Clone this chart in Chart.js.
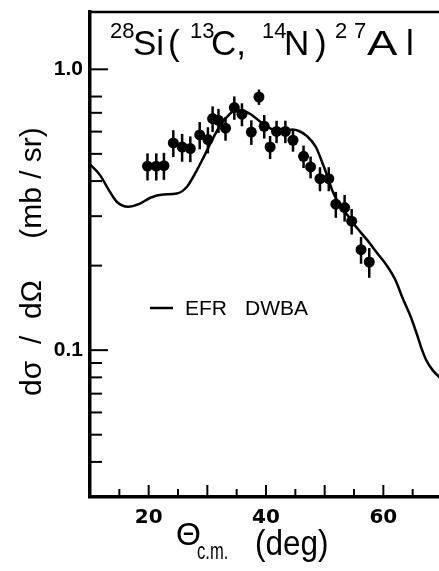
<!DOCTYPE html>
<html>
<head>
<meta charset="utf-8">
<script src="https://cdn.jsdelivr.net/npm/chart.js@4/dist/chart.umd.min.js"></script>
<style>
  html, body { margin: 0; padding: 0; background: #fff; overflow: hidden; }
  canvas { display: block; }
</style>
</head>
<body>
<canvas id="xsec" width="451" height="571"></canvas>
<script>
// measured points (theta c.m. in deg, dsigma/dOmega in mb/sr)
const angles = [19.8, 21.3, 22.6, 24.2, 25.7, 27.1, 28.7, 30.1, 30.9, 31.9, 33.1, 34.6, 35.9, 37.5, 38.8,
                39.7, 40.7, 41.8, 43.3, 44.6, 46.4, 47.6, 49.2, 50.7, 51.9, 53.4, 54.6, 56.2, 57.6];
const sigma = [0.452, 0.452, 0.454, 0.547, 0.529, 0.522, 0.584, 0.562, 0.668, 0.658, 0.617, 0.731, 0.692, 0.598, 0.797,
               0.627, 0.529, 0.601, 0.601, 0.559, 0.490, 0.449, 0.408, 0.408, 0.331, 0.322, 0.288, 0.228, 0.206];
const sigmaErr = [0.05, 0.05, 0.05, 0.06, 0.06, 0.055, 0.065, 0.06, 0.07, 0.065, 0.06, 0.07, 0.065, 0.06, 0.05,
                  0.06, 0.05, 0.055, 0.055, 0.05, 0.045, 0.04, 0.04, 0.04, 0.035, 0.035, 0.03, 0.025, 0.025];

// EFR DWBA curve
const dwbaAngles = [10, 11.7, 13.4, 14.6, 16.5, 18.3, 20.3, 22.5, 24.8, 26.5, 27.9, 29.4, 30.8, 32.2, 33.6, 34.8,
                    36.2, 37.4, 39.1, 40.8, 42.5, 44.5, 45.6, 47.0, 48.5, 49.6, 50.5, 51.3, 52.4, 53.9, 55.6,
                    57.3, 59.0, 60.6, 62.1, 63.3, 64.7, 65.9, 66.4, 67.3, 68.4, 69.5, 70];
const dwbaSigma = [0.459, 0.420, 0.366, 0.337, 0.324, 0.331, 0.349, 0.358, 0.361, 0.381, 0.425, 0.488, 0.559, 0.632,
                   0.686, 0.715, 0.711, 0.692, 0.649, 0.615, 0.593, 0.610, 0.603, 0.578, 0.529, 0.465, 0.415, 0.370,
                   0.333, 0.302, 0.271, 0.246, 0.221, 0.200, 0.177, 0.153, 0.131, 0.111, 0.103, 0.0923, 0.0849,
                   0.0804, 0.079];

// axis ticks
const xTicks = [15, 20, 25, 30, 35, 40, 45, 50, 55, 60, 65];
const xLabels = { 20: '20', 40: '40', 60: '60' };
const yTicks = [0.04, 0.05, 0.06, 0.07, 0.08, 0.09, 0.1, 0.2, 0.3, 0.4, 0.5, 0.6, 0.7, 0.8, 1.0];
const yLabels = { 0.1: '0.1', 1: '1.0' };

const SANS = '"Liberation Sans", Arial, sans-serif';

// vertical error bars through each measured point
const errorBars = {
    id: 'errorBars',
    beforeDatasetsDraw(chart) {
        const { ctx, scales: { x, y } } = chart;
        ctx.save();
        ctx.strokeStyle = '#000';
        ctx.lineWidth = 2.5;
        angles.forEach((a, i) => {
            const px = x.getPixelForValue(a);
            ctx.beginPath();
            ctx.moveTo(px, y.getPixelForValue(sigma[i] - sigmaErr[i]));
            ctx.lineTo(px, y.getPixelForValue(sigma[i] + sigmaErr[i]));
            ctx.stroke();
        });
        ctx.restore();
    }
};

// text squeezed sideways, the lettering of the original is narrow
function narrowText(ctx, s, x, y, sx) {
    ctx.save();
    ctx.translate(x, y);
    ctx.scale(sx, 1);
    ctx.fillText(s, 0, 0);
    ctx.restore();
}

// inward tick marks, top frame line and all the lettering
const decorations = {
    id: 'decorations',
    afterDraw(chart) {
        const { ctx, chartArea: area, scales: { x, y } } = chart;
        ctx.save();
        ctx.strokeStyle = '#000';
        ctx.fillStyle = '#000';

        ctx.lineWidth = 2;
        y.ticks.forEach(t => {
            const py = y.getPixelForValue(t.value);
            const len = yLabels[t.value] ? 18 : 12;
            ctx.beginPath();
            ctx.moveTo(area.left, py);
            ctx.lineTo(area.left + len, py);
            ctx.stroke();
        });
        x.ticks.forEach(t => {
            const px = x.getPixelForValue(t.value);
            const len = t.value % 10 === 0 ? 12 : 8;
            ctx.beginPath();
            ctx.moveTo(px, area.bottom);
            ctx.lineTo(px, area.bottom - len);
            ctx.stroke();
        });

        // top of the frame
        ctx.lineWidth = 2.5;
        ctx.beginPath();
        ctx.moveTo(area.left - 1.5, area.top);
        ctx.lineTo(area.right + 2, area.top);
        ctx.stroke();

        // reaction label
        ctx.textBaseline = 'alphabetic';
        ctx.textAlign = 'left';
        const sup = '22px ' + SANS, big = '35px ' + SANS;
        [['28', 110, sup], ['Si', 133, big], ['(', 168, big], ['13', 190, sup], ['C,', 211, big],
         ['14', 262, sup], ['N', 284, big], [')', 315, big], ['2', 335, sup], ['7', 354, sup]].forEach(([s, px, f]) => {
            ctx.font = f;
            ctx.fillText(s, px, f === sup ? 38 : 55);
        });
        ctx.font = big;
        narrowText(ctx, 'A', 367, 55, 1.3);
        ctx.fillText('l', 406, 55);

        // legend
        ctx.lineWidth = 2.5;
        ctx.beginPath();
        ctx.moveTo(150, 308);
        ctx.lineTo(173, 308);
        ctx.stroke();
        ctx.font = '21px ' + SANS;
        ctx.fillText('EFR', 185, 315);
        ctx.fillText('DWBA', 245, 315);

        // x axis title
        ctx.font = '32px ' + SANS;
        ctx.fillText('\u0398', 176, 545);
        ctx.font = '23px ' + SANS;
        narrowText(ctx, 'c.m.', 197, 559, 0.72);
        ctx.font = '35px ' + SANS;
        narrowText(ctx, '(deg)', 255, 555, 0.9);

        // y axis title
        ctx.translate(41, 262);
        ctx.rotate(-Math.PI / 2);
        ctx.textAlign = 'center';
        ctx.font = '30px ' + SANS;
        ctx.fillText('d\u03c3  /  d\u03a9', -76, 0);
        ctx.fillText('(mb / sr)', 79, 0);
        ctx.restore();
    }
};

new Chart(document.getElementById('xsec'), {
    type: 'scatter',
    data: {
        datasets: [
            {
                label: 'data',
                data: angles.map((a, i) => ({ x: a, y: sigma[i] })),
                pointRadius: 5.5,
                pointHoverRadius: 5.5,
                pointBackgroundColor: '#000',
                pointBorderWidth: 0
            },
            {
                label: 'EFR DWBA',
                data: dwbaAngles.map((a, i) => ({ x: a, y: dwbaSigma[i] })),
                showLine: true,
                borderColor: '#000',
                borderWidth: 2.5,
                pointRadius: 0,
                cubicInterpolationMode: 'monotone'
            }
        ]
    },
    options: {
        responsive: false,
        animation: false,
        events: [],
        layout: { padding: { top: 12, right: 9, left: 0, bottom: 0 } },
        plugins: {
            legend: { display: false },
            tooltip: { enabled: false }
        },
        scales: {
            x: {
                type: 'linear',
                min: 10,
                max: 70,
                afterFit: s => { s.height = 74; },
                afterBuildTicks: s => { s.ticks = xTicks.map(v => ({ value: v })); },
                grid: { display: false, drawTicks: false },
                border: { display: true, width: 3.5, color: '#000' },
                ticks: {
                    autoSkip: false,
                    maxRotation: 0,
                    padding: 9,
                    color: '#000',
                    font: { family: 'DejaVu Sans', size: 20, weight: 'bold' },
                    callback: v => xLabels[v] || ''
                }
            },
            y: {
                type: 'logarithmic',
                min: 0.03,
                max: 1.6,
                afterFit: s => { s.width = 90; },
                afterBuildTicks: s => { s.ticks = yTicks.map(v => ({ value: v })); },
                grid: { display: false, drawTicks: false },
                border: { display: true, width: 3.5, color: '#000' },
                ticks: {
                    autoSkip: false,
                    padding: 7,
                    color: '#000',
                    font: { family: 'Liberation Sans', size: 21, weight: 'bold', lineHeight: 0.4 },
                    callback: v => yLabels[v] || ''
                }
            }
        }
    },
    plugins: [errorBars, decorations]
});
</script>
</body>
</html>
